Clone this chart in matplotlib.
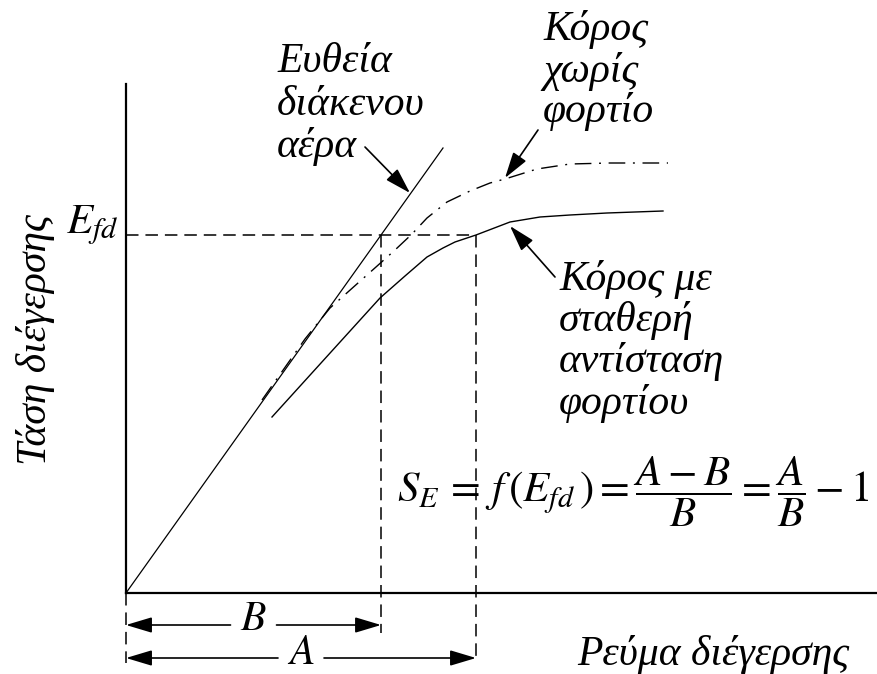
import matplotlib
matplotlib.use("Agg")
import matplotlib.pyplot as plt

plt.rcParams['font.family'] = ['Liberation Serif', 'DejaVu Serif']
plt.rcParams['mathtext.fontset'] = 'stix'
plt.rcParams['lines.scale_dashes'] = False

# Air-gap line (straight through the origin)
air_gap_x = [0.0, 3.17]
air_gap_y = [0.0, 4.45]

# Open-circuit (no-load) saturation curve
no_load_x = [1.36, 1.79, 2.04, 2.32, 2.50, 2.69, 2.86, 3.01, 3.21, 3.44, 3.64,
             3.79, 4.11, 4.44, 4.84, 5.42]
no_load_y = [1.93, 2.54, 2.85, 3.10, 3.26, 3.43, 3.59, 3.75, 3.91, 4.02, 4.10,
             4.14, 4.24, 4.29, 4.30, 4.30]

# Saturation curve with constant load resistance
full_load_x = [1.46, 2.54, 2.79, 3.01, 3.17, 3.29, 3.50, 3.84, 4.14, 4.44, 4.81, 5.37]
full_load_y = [1.76, 2.95, 3.17, 3.36, 3.45, 3.51, 3.58, 3.71, 3.76, 3.78, 3.80, 3.82]

# Operating excitation voltage and the two field currents
e_fd = 3.58
current_b = e_fd * air_gap_x[1] / air_gap_y[1]
current_a = 3.50

air_gap_label = ["Ευθεία", "διάκενου", "αέρα"]
no_load_label = ["Κόρος", "χωρίς", "φορτίο"]
load_label = ["Κόρος με", "σταθερή", "αντίσταση", "φορτίου"]
y_label = "Τάση διέγερσης"
x_label = "Ρεύμα διέγερσης"
formula = r"$S_E\,=\,f\,(E_{fd}\,)=\dfrac{A-B}{B}=\dfrac{A}{B}-\mathrm{1}$"

FS = 30

fig = plt.figure(figsize=(8.77, 6.74), dpi=100)
ax = fig.add_axes([0, 0, 1, 1])
ax.set_xlim(-1.26, 7.51)
ax.set_ylim(-0.81, 5.93)
for side in ("top", "right"):
    ax.spines[side].set_visible(False)
ax.spines["left"].set_position(("data", 0))
ax.spines["bottom"].set_position(("data", 0))
ax.spines["left"].set_bounds(0, 5.09)
ax.spines["bottom"].set_bounds(0, 7.51)
ax.spines["left"].set_linewidth(1.6)
ax.spines["bottom"].set_linewidth(1.6)
ax.set_xticks([])
ax.set_yticks([])
ax.patch.set_visible(False)

# curves
ax.plot(air_gap_x, air_gap_y, color="black", lw=0.9)
ax.plot(full_load_x, full_load_y, color="black", lw=1.0)
ax.plot(no_load_x, no_load_y, color="black", lw=1.0,
        linestyle=(0, (12, 5.5, 1.4, 5.5)))

# construction lines
dash = (0, (9, 5))
ax.plot([0, current_a], [e_fd, e_fd], color="black", lw=1.1, linestyle=dash)
ax.plot([current_b, current_b], [e_fd, -0.40], color="black", lw=1.1, linestyle=dash)
ax.plot([current_a, current_a], [e_fd, -0.66], color="black", lw=1.1, linestyle=dash)
ax.plot([0, 0], [0, -0.70], color="black", lw=1.1, linestyle=dash)

arrow_style = "-|>,head_length=1.0,head_width=0.3"


def arrow(tail, tip):
    ax.annotate("", xy=tip, xytext=tail,
                arrowprops=dict(arrowstyle=arrow_style, color="black", lw=1.2,
                                shrinkA=0, shrinkB=0, mutation_scale=16))


# dimension lines B and A with gaps for their labels
y_b, y_a = -0.32, -0.65
label_base = {"B": -0.37, "A": -0.715}
gap = 0.23
for length, yy, name in ((current_b, y_b, "B"), (current_a, y_a, "A")):
    mid = length / 2
    arrow((mid - gap, yy), (0, yy))
    arrow((mid + gap, yy), (length, yy))
    ax.text(mid, label_base[name], f"${name}$", fontsize=FS, ha="center",
            va="baseline")

# pointer arrows to the curves
arrow((2.39, 4.46), (2.84, 4.00))
arrow((4.12, 4.63), (3.79, 4.15))
arrow((4.29, 3.16), (3.84, 3.67))

# annotations
for line, yb in zip(air_gap_label, [5.21, 4.78, 4.36]):
    ax.text(1.51, yb, line, fontsize=FS, style="italic", ha="left", va="baseline")
for line, yb in zip(no_load_label, [5.53, 5.11, 4.71]):
    ax.text(4.17, yb, line, fontsize=FS, style="italic", ha="left", va="baseline")
for line, yb in zip(load_label, [3.03, 2.62, 2.21, 1.79]):
    ax.text(4.33, yb, line, fontsize=FS, style="italic", ha="left", va="baseline")

ax.text(-0.07, 3.60, r"$E_{fd}$", fontsize=31, ha="right", va="baseline")
ax.text(2.71, 1.01, formula, fontsize=31, ha="left", va="center")

ax.text(-0.91, 2.53, y_label, fontsize=FS, style="italic", rotation=90,
        ha="center", va="center")
ax.text(4.51, -0.72, x_label, fontsize=FS, style="italic", ha="left", va="baseline")

fig.savefig("out.png", dpi=100)
